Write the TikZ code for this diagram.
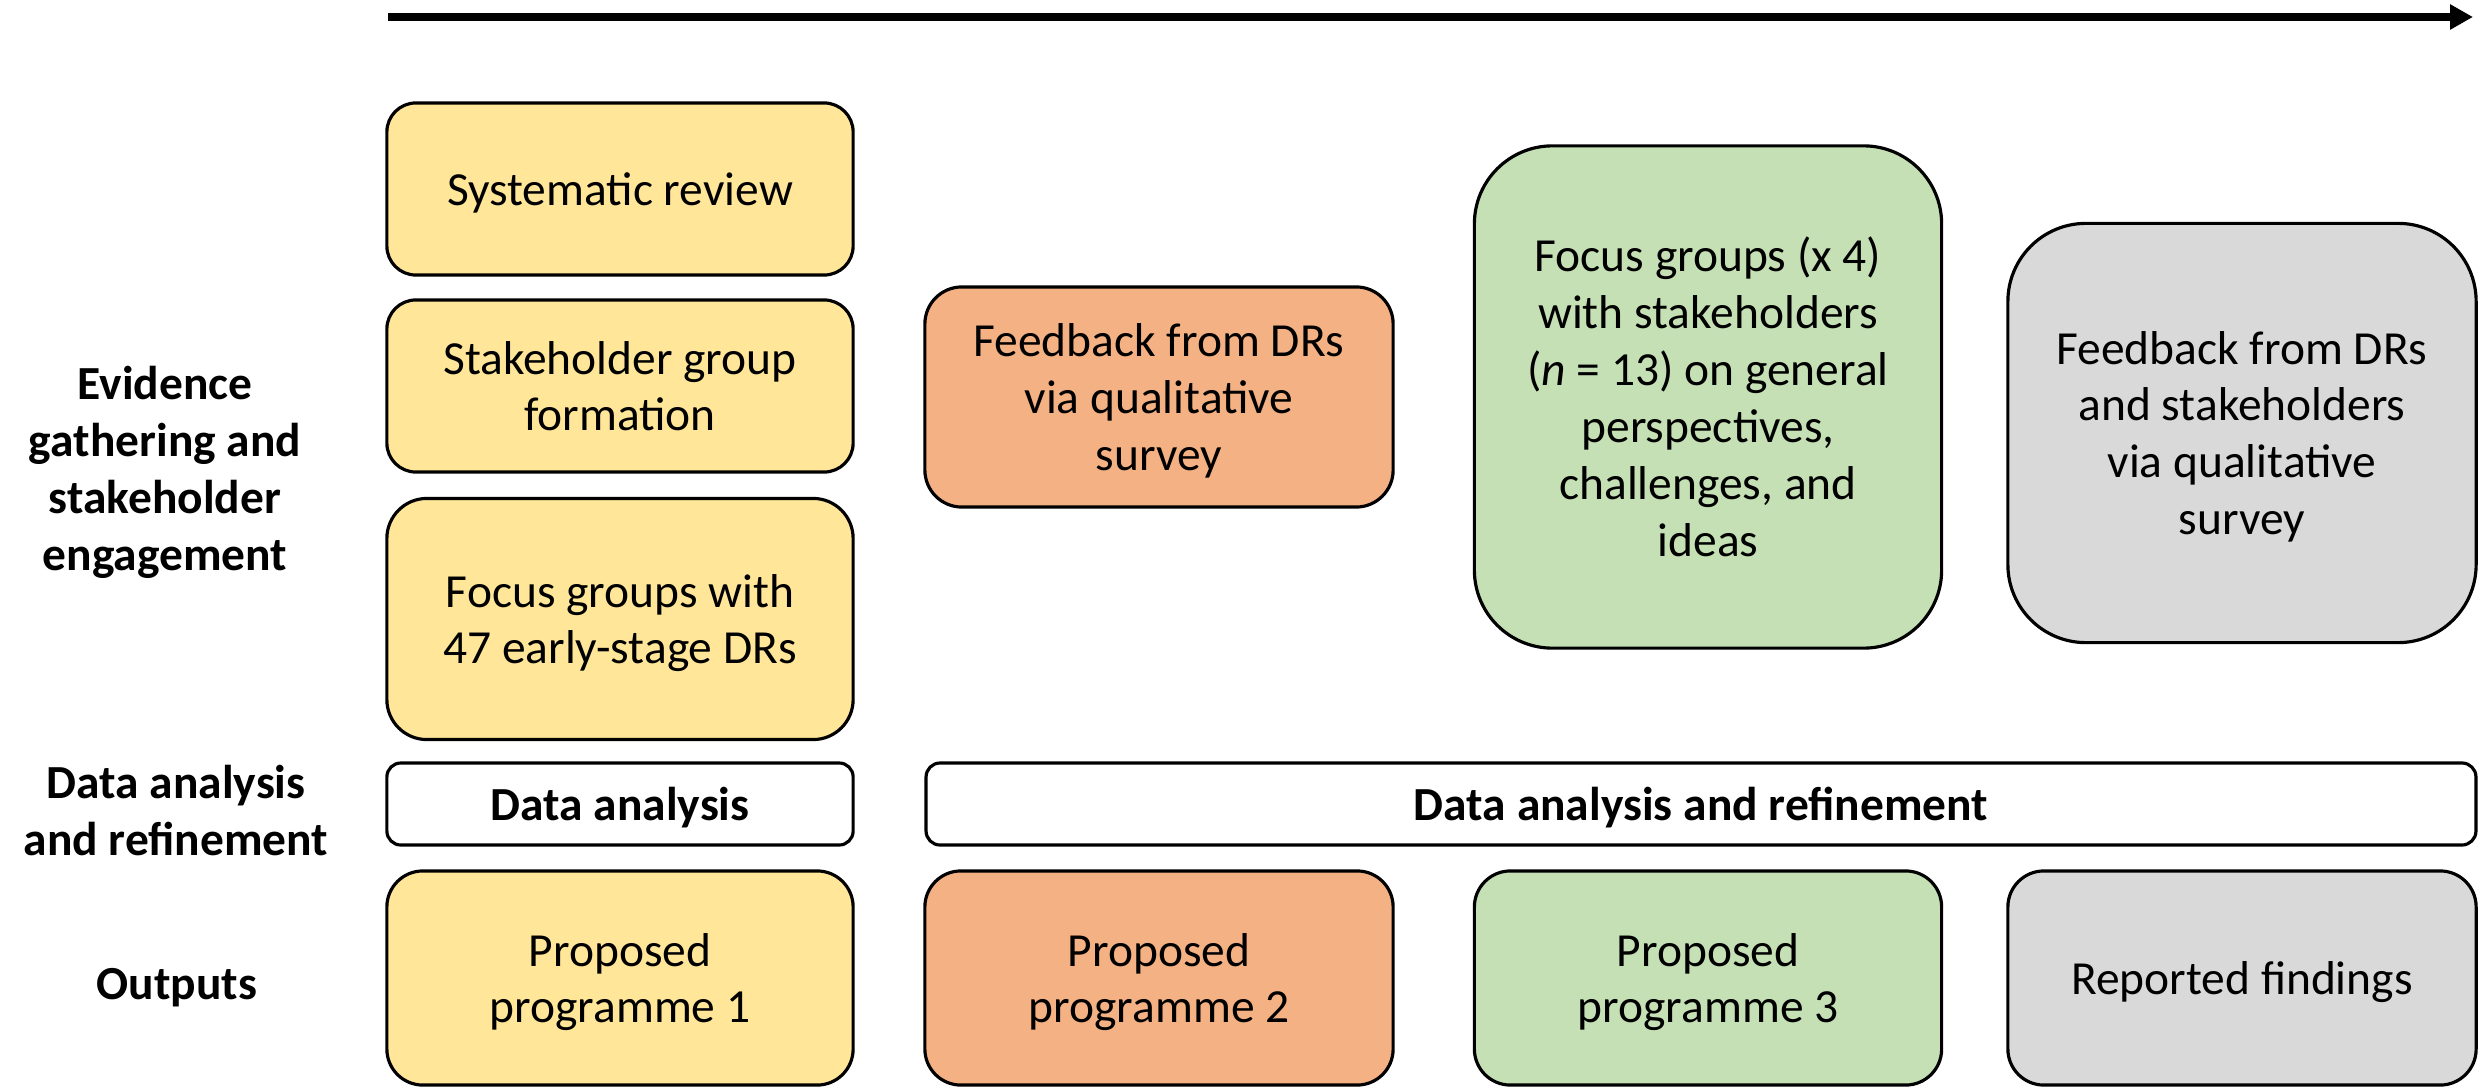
\documentclass[tikz,border=0pt]{standalone}
\usepackage{fontspec}
\setmainfont{Carlito}
\usetikzlibrary{positioning}
\usetikzlibrary{arrows.meta}
\definecolor{stageyellow}{HTML}{FFE699}
\definecolor{stageorange}{HTML}{F4B183}
\definecolor{stagegreen}{HTML}{C5E0B4}
\definecolor{stagegray}{HTML}{D9D9D9}
\tikzset{
    basebox/.style = {rectangle, draw=black, line width=0.9pt, align=center, inner sep=0pt, text=black, font=\fontsize{13.5}{16.2}\selectfont},
    stagebox/.style = {basebox, text depth=0pt},
    outbox/.style = {basebox, text depth=-1.5pt}, % outputs row sits a bit lower
    yel/.style = {fill=stageyellow},
    ora/.style = {fill=stageorange},
    gre/.style = {fill=stagegreen},
    gry/.style = {fill=stagegray},
    wht/.style = {fill=white, font=\fontsize{13.5}{16.2}\selectfont\bfseries}, % analysis bars
    rowlabel/.style = {align=center, inner sep=0pt, text depth=0pt, font=\fontsize{13.5}{16.2}\selectfont\bfseries},
    timeline/.style = {-{Triangle[length=0.23cm, width=0.24cm]}, line width=0.08cm, black}
}

\begin{document}
\begin{tikzpicture}[x=0.01cm, y=-0.01cm]
  \useasboundingbox (0,0) rectangle (2488,1088);
  % time arrow
  \coordinate (tstart) at (388,17);
  \coordinate (tend) at (2473,17);
  \draw[timeline] (tstart) -- (tend);
  % row labels
  \node[rowlabel] (evid) at (165,468) {Evidence\\gathering and\\stakeholder\\engagement};
  \node[rowlabel] (anal) at (176,810) {Data analysis\\and refinement};
  \node[rowlabel] (outp) at (177,984) {Outputs};
  % stage 1
  \node[stagebox, yel, minimum width=4.66cm, minimum height=1.72cm, rounded corners=0.29cm] (sysrev) at (620,189) {Systematic review};
  \node[stagebox, yel, minimum width=4.66cm, minimum height=1.72cm, rounded corners=0.29cm] (stform) at (620,386) {Stakeholder group\\formation};
  \node[stagebox, yel, minimum width=4.66cm, minimum height=2.41cm, rounded corners=0.40cm] (focdr) at (620,619) {Focus groups with\\47 early-stage DRs};
  \node[stagebox, wht, minimum width=4.66cm, minimum height=0.82cm, rounded corners=0.14cm] (da1) at (620,804) {Data analysis};
  \node[outbox, yel, minimum width=4.66cm, minimum height=2.14cm, rounded corners=0.36cm] (prog1) at (620,978) {Proposed\\programme 1};
  % stage 2
  \node[stagebox, ora, minimum width=4.68cm, minimum height=2.20cm, rounded corners=0.37cm] (fbdr) at (1159,397) {Feedback from DRs\\via qualitative\\survey};
  \node[outbox, ora, minimum width=4.68cm, minimum height=2.14cm, rounded corners=0.36cm] (prog2) at (1159,978) {Proposed\\programme 2};
  \node[stagebox, wht, minimum width=15.49cm, minimum height=0.82cm, rounded corners=0.14cm] (da2) at (1701,804) {Data analysis and refinement};
  % stage 3
  \node[stagebox, gre, minimum width=4.67cm, minimum height=5.02cm, rounded corners=0.78cm] (focst) at (1708,397) {Focus groups (x 4)\\with stakeholders\\(\textit{n} = 13) on general\\perspectives,\\challenges, and\\ideas};
  \node[outbox, gre, minimum width=4.67cm, minimum height=2.14cm, rounded corners=0.36cm] (prog3) at (1708,978) {Proposed\\programme 3};
  % stage 4
  \node[stagebox, gry, minimum width=4.68cm, minimum height=4.19cm, rounded corners=0.78cm] (fbst) at (2242,433) {Feedback from DRs\\and stakeholders\\via qualitative\\survey};
  \node[outbox, gry, text depth=-4pt, minimum width=4.68cm, minimum height=2.14cm, rounded corners=0.36cm] (finds) at (2242,978) {Reported findings};
\end{tikzpicture}
\end{document}
